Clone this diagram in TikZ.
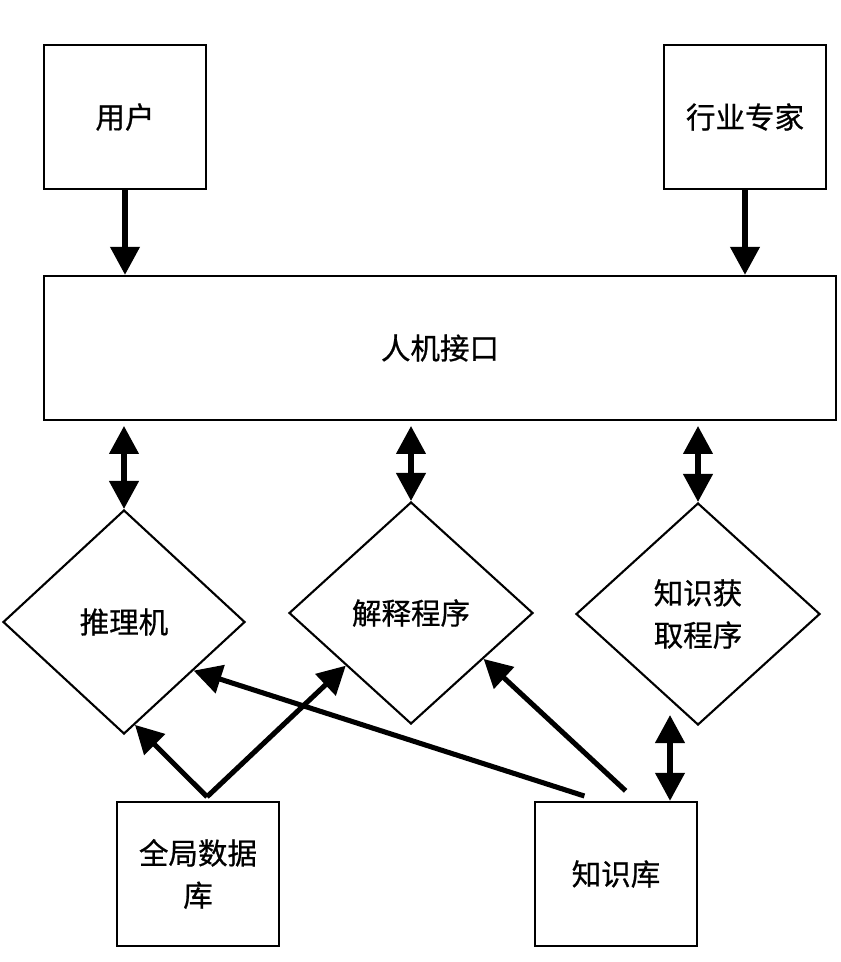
\documentclass[tikz,border=0pt]{standalone}
\usepackage{fontspec}
\setmainfont{Noto Sans CJK SC}[RawFeature={embolden=0.7}]
\usepackage{tikz}
\usetikzlibrary{shapes.geometric, arrows.meta, calc}
\tikzstyle{block} = [rectangle, minimum width=4.05cm, minimum height=3.6cm, text centered, draw=black, line width=1.7pt, align=center, font=\fontsize{21}{30}\selectfont]
\tikzstyle{decision} = [diamond, minimum width=6.1cm, minimum height=5.55cm, text centered, draw=black, line width=1.5pt, align=center, inner sep=0pt, font=\fontsize{21}{30}\selectfont]
\tikzstyle{arrow} = [line width=3.6pt, -{Triangle[length=0.7cm, width=0.72cm]}]
\tikzstyle{dblarrow} = [line width=3.6pt, {Triangle[length=0.7cm, width=0.72cm]}-{Triangle[length=0.7cm, width=0.72cm]}]

\begin{document}
\begin{tikzpicture}

        \useasboundingbox (0,0) rectangle (21,-24.05);

        % 节点
        \node (user) [block] at (3.125,-2.925) {用户};
        \node (expert) [block] at (18.625,-2.925) {行业专家};
        \node (hmi) [block, minimum width=19.8cm] at (11,-8.7) {人机接口};
        \node (reason) [decision, minimum width=6.05cm, minimum height=5.6cm] at (3.1,-15.55) {推理机};
        \node (expl) [decision] at (10.275,-15.325) {解释程序};
        \node (acq) [decision] at (17.45,-15.35) {知识获\\取程序};
        \node (gdb) [block] at (4.95,-21.85) {全局数据\\库};
        \node (kb) [block] at (15.4,-21.85) {知识库};

        % 连线
        \draw [arrow] (user.south) -- (user.south |- hmi.north);
        \draw [arrow] (expert.south) -- (expert.south |- hmi.north);
        \draw [dblarrow] ($(reason.north |- hmi.south)+(0,-0.12)$) -- (reason.north);
        \draw [dblarrow] ($(expl.north |- hmi.south)+(0,-0.12)$) -- (expl.north);
        \draw [dblarrow] ($(acq.north |- hmi.south)+(0,-0.12)$) -- (acq.north);
        \draw [dblarrow] ($(kb.north)+(1.35,0)$) -- ($(acq.south)+(-0.7,0.275)$);
        \draw [arrow] ($(gdb.north)+(0.225,0.1)$) -- ($(reason.south)!0.09!(reason.east)$);
        \draw [arrow] ($(gdb.north)+(0.225,0.1)$) -- ($(expl.west)!0.47!(expl.south)$);
        \draw [arrow] ($(kb.north)+(-0.79,0.12)$) -- ($(reason.south)!0.57!(reason.east)$);
        \draw [arrow] ($(kb.north)+(0.24,0.25)$) -- ($(expl.south)!0.59!(expl.east)$);

    \end{tikzpicture}
\end{document}
